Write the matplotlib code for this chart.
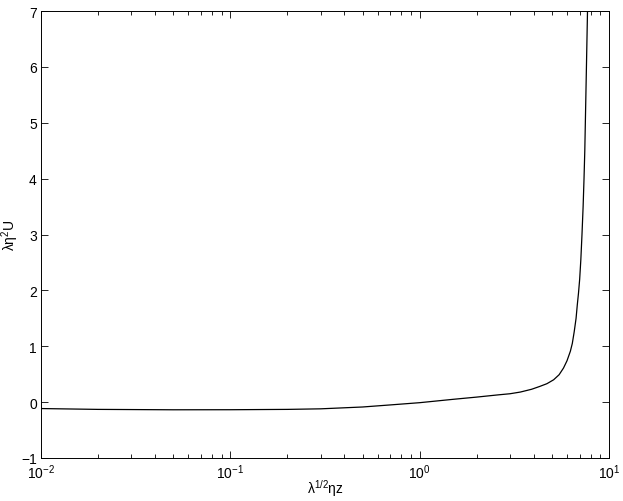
import numpy as np
import matplotlib
matplotlib.use("Agg")
import matplotlib.pyplot as plt

plt.rcParams["font.family"] = ["Liberation Sans", "DejaVu Sans"]
plt.rcParams["mathtext.fontset"] = "custom"
plt.rcParams["mathtext.rm"] = "Liberation Sans"
plt.rcParams["mathtext.it"] = "Liberation Sans"

# curve
z = [0.01, 0.02, 0.05, 0.1, 0.2, 0.3, 0.5, 0.7, 1.0, 1.5, 2.0, 2.6, 3.0,
     3.4, 3.9, 4.3, 4.7, 5.1, 5.45, 5.75, 6.0, 6.25, 6.4, 6.55, 6.7, 6.8,
     6.9, 7.0, 7.1, 7.2, 7.3, 7.38, 7.45, 7.5, 7.55, 7.6, 7.65, 7.7, 7.75]
U = [-0.115, -0.13, -0.137, -0.136, -0.13, -0.12, -0.087, -0.05, -0.01, 0.05,
     0.09, 0.13, 0.15, 0.18, 0.23, 0.28, 0.33, 0.40, 0.49, 0.61, 0.74, 0.91,
     1.05, 1.26, 1.5, 1.74, 1.95, 2.2, 2.55, 3.0, 3.5, 4.0, 4.5, 5.0, 5.5,
     6.0, 6.5, 7.0, 7.6]

fig = plt.figure(figsize=(6.23, 5.02), dpi=100)
ax = fig.add_axes([41 / 623, 43 / 502, 568 / 623, 447 / 502])

ax.plot(z, U, color="black", linewidth=0.9)
ax.set_xscale("log")
ax.set_xlim(1e-2, 1e1)
ax.set_ylim(-1, 7)
ax.set_yticks(range(-1, 8))
ax.set_yticklabels(["\u22121" if v < 0 else str(v) for v in range(-1, 8)])

ax.tick_params(which="both", direction="in", top=True, right=True,
               labelsize=10, width=0.6, pad=3)
ax.tick_params(which="major", length=5)
ax.tick_params(which="minor", length=3)
for s in ax.spines.values():
    s.set_linewidth(0.7)

ax.set_xlabel("λ$^{1/2}$ηz", fontsize=10)
ax.set_ylabel("λη$^{2}$U", fontsize=10)
ax.xaxis.set_label_coords(0.5, -0.042)
ax.yaxis.set_label_coords(-0.036, 0.5)

fig.savefig("out.png", dpi=100)
